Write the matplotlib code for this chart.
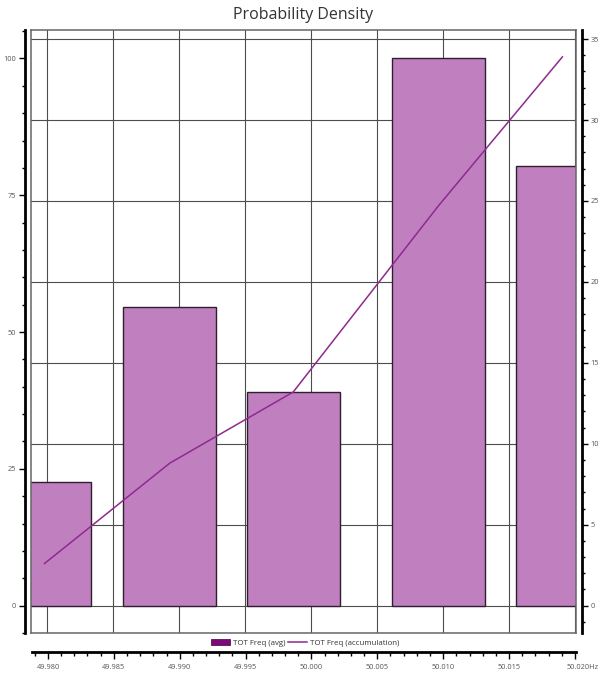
import matplotlib
matplotlib.use("Agg")
import matplotlib.pyplot as plt
from matplotlib.ticker import MultipleLocator, FuncFormatter
from matplotlib.transforms import ScaledTranslation
from matplotlib.patches import Patch
from matplotlib.lines import Line2D

plt.rcParams['font.family'] = ['Open Sans', 'DejaVu Sans']

# Frequency bins (Hz), bar values (left scale) and accumulation (right scale)
bin_centers = [49.97981, 49.98930, 49.99866, 50.00966, 50.01905]
bin_width = 0.00705
freq_avg = [22.6, 54.6, 39.0, 100.0, 80.3]
freq_accum = [2.6, 8.8, 13.2, 24.7, 33.9]

x_limits = (49.97879, 50.02008)
left_limits = (-5.0, 105.2)
right_limits = (-1.69, 35.56)
x_ticks = [49.980, 49.985, 49.990, 49.995, 50.000, 50.005, 50.010, 50.015, 50.020]
x_unit = 'Hz'

bar_color = '#C080C0'
bar_edge = '#2E1F2E'
line_color = '#8E2A8E'
legend_patch_color = '#7A0A7A'
label_color = '#555555'
frame_color = '#666666'
grid_color = '#4D4D4D'

W, H = 603, 675
fig = plt.figure(figsize=(W / 100, H / 100), dpi=100)

pos = [31 / W, 1 - 633 / H, (576 - 31) / W, (633 - 30) / H]

# Background grid (vertical at frequency ticks, horizontal at right-scale ticks)
gax = fig.add_axes(pos, zorder=0)
gax.set_xlim(*x_limits)
gax.set_ylim(*right_limits)
gax.set_xticks(x_ticks)
gax.yaxis.set_major_locator(MultipleLocator(5))
gax.grid(True, color=grid_color, lw=0.8)
gax.tick_params(length=0, labelbottom=False, labelleft=False)
for s in gax.spines.values():
    s.set_visible(False)

# Bars on the left scale
ax = fig.add_axes(pos, zorder=1)
ax.patch.set_visible(False)
ax.bar(bin_centers, freq_avg, width=bin_width, color=bar_color,
       edgecolor=bar_edge, linewidth=1.0, zorder=1)
ax.set_xlim(*x_limits)
ax.set_ylim(*left_limits)
ax.yaxis.set_major_locator(MultipleLocator(25))
ax.yaxis.set_minor_locator(MultipleLocator(5))
ax.tick_params(axis='x', length=0, labelbottom=False)
ax.tick_params(axis='y', which='major', length=4.5, width=1.0, color='black',
               labelsize=5.3, labelcolor=label_color, pad=2)
ax.tick_params(axis='y', which='minor', length=2, width=1.0, color='black')
ax.spines['left'].set_position(('outward', 4.5))
ax.spines['left'].set_linewidth(2.0)
ax.spines['left'].set_color('black')
ax.spines['right'].set_color(frame_color)
ax.spines['right'].set_linewidth(1.1)
ax.spines['top'].set_visible(False)
ax.spines['bottom'].set_visible(False)

# Accumulation line on the right scale
ax2 = ax.twinx()
ax2.plot(bin_centers, freq_accum, color=line_color, lw=1.1)
ax2.set_ylim(*right_limits)
ax2.yaxis.set_major_locator(MultipleLocator(5))
ax2.yaxis.set_minor_locator(MultipleLocator(1))
ax2.tick_params(axis='y', which='major', length=4.5, width=1.0, color='black',
                labelsize=5.3, labelcolor=label_color, pad=2)
ax2.tick_params(axis='y', which='minor', length=2, width=1.0, color='black')
ax2.spines['right'].set_position(('outward', 4))
ax2.spines['right'].set_linewidth(2.0)
ax2.spines['right'].set_color('black')
for side in ('left', 'top', 'bottom'):
    ax2.spines[side].set_color(frame_color)
    ax2.spines[side].set_linewidth(1.1)

# Separate frequency axis below the legend
tick_len, tick_pad = 5.0, 3.5
xax = fig.add_axes([32 / W, 1 - 652 / H, (576 - 32) / W, 0.0001])
xax.patch.set_visible(False)
xax.set_xlim(*x_limits)
xax.set_yticks([])
xax.xaxis.set_major_locator(MultipleLocator(0.005))
xax.xaxis.set_minor_locator(MultipleLocator(0.001))
last_tick = x_ticks[-1]
xax.xaxis.set_major_formatter(
    FuncFormatter(lambda v, p: '' if abs(v - last_tick) < 1e-6 else f'{v:.3f}'))
xax.tick_params(axis='x', which='major', direction='out', length=tick_len, width=1.0,
                labelsize=5.3, labelcolor=label_color, pad=tick_pad)
xax.tick_params(axis='x', which='minor', direction='out', length=3, width=1.0)
for side in ('left', 'right', 'top'):
    xax.spines[side].set_visible(False)
xax.spines['bottom'].set_linewidth(2.0)

# Last frequency label carries the unit, shifted so the number stays on its tick
trans, va, _ = xax.get_xaxis_text1_transform(tick_len + tick_pad)
xax.text(last_tick, 0, f'{last_tick:.3f}{x_unit}', ha='center', va=va,
         fontsize=5.3, color=label_color,
         transform=trans + ScaledTranslation(7.5 / 100, 0, fig.dpi_scale_trans))

# Legend
handles = [Patch(facecolor=legend_patch_color, edgecolor='#3A003A', lw=0.5),
           Line2D([], [], color=line_color, lw=1.1)]
fig.legend(handles, ['TOT Freq (avg)', 'TOT Freq (accumulation)'],
           loc='center', bbox_to_anchor=(305 / W, 1 - 643 / H), ncol=2,
           frameon=False, fontsize=5.7, handlelength=2.4, handleheight=0.8,
           handletextpad=0.4, columnspacing=0.3, labelcolor='#333333')

fig.text(303 / W, 1 - 15 / H, 'Probability Density', ha='center', va='center',
         fontsize=11.5, color='#333333')

fig.savefig('out.png', dpi=100)
